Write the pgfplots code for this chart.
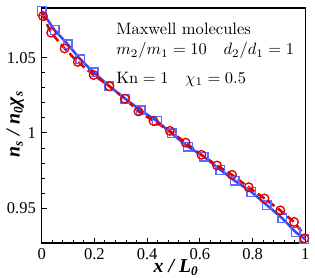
\documentclass[border=0pt]{standalone}
\usepackage{pgfplots}
\pgfplotsset{compat=1.18}
\usepackage{fontspec}
\newfontfamily\tfont{Liberation Serif}
\definecolor{myblue}{RGB}{50,70,255}
\definecolor{myred}{RGB}{220,0,0}
\begin{document}
\begin{tikzpicture}
\begin{axis}[
 scale only axis, width=159.6pt, height=142.2pt,
 xmin=0, xmax=1, ymin=0.927, ymax=1.083,
 xtick={0,0.2,0.4,0.6,0.8,1}, ytick={0.95,1,1.05},
 minor x tick num=4, minor y tick num=4,
 tick align=inside, tick pos=left,
 major tick length=3pt, minor tick length=1.8pt,
 axis line style={line width=0.9pt},
 every tick/.style={black, line width=0.6pt},
 tick label style={font=\tfont},
 /pgf/number format/assume math mode=true,
 clip=false,
]
\path (rel axis cs:-0.158,-0.148) rectangle (rel axis cs:1.026,1.034);
% blue line
\addplot[myblue, line width=1.5pt] coordinates {
(0,1.081)(0.049,1.0683)(0.099,1.0589)(0.146,1.049)(0.197,1.0403)(0.257,1.031)
(0.317,1.0227)(0.376,1.015)(0.437,1.008)(0.493,0.9997)(0.555,0.9909)(0.615,0.9843)
(0.678,0.9755)(0.732,0.9683)(0.795,0.9609)(0.854,0.9521)(0.913,0.9433)(0.963,0.9342)(1,0.9293)};
\addplot[only marks, mark=square, mark size=2.6pt, color=myblue!80!white, mark options={line width=0.8pt}] coordinates {
(0,1.081)(0.049,1.0683)(0.099,1.0589)(0.146,1.049)(0.197,1.0403)(0.257,1.031)
(0.317,1.0227)(0.376,1.015)(0.437,1.008)(0.493,0.9997)(0.555,0.9909)(0.615,0.9843)
(0.678,0.9755)(0.732,0.9683)(0.795,0.9609)(0.854,0.9521)(0.913,0.9433)(0.963,0.9342)(0.996,0.9295)};
% red line
\addplot[myred, line width=1.5pt, dash pattern=on 5pt off 2.5pt] coordinates {
(0,1.0797)(0.005,1.0776)(0.036,1.0666)(0.087,1.0561)(0.137,1.0472)(0.197,1.0385)(0.257,1.031)
(0.316,1.0227)(0.367,1.0143)(0.424,1.008)(0.486,1.0014)(0.546,0.9936)(0.606,0.9855)
(0.665,0.9784)(0.722,0.9722)(0.785,0.964)(0.845,0.9565)(0.905,0.9486)(0.957,0.9409)(1,0.9315)};
\addplot[only marks, mark=o, mark size=2.6pt, color=myred, mark options={line width=0.8pt}] coordinates {
(0.005,1.0776)(0.036,1.0666)(0.087,1.0561)(0.137,1.0472)(0.197,1.0385)(0.257,1.031)
(0.316,1.0227)(0.367,1.0143)(0.424,1.008)(0.486,1.0014)(0.546,0.9936)(0.606,0.9855)
(0.665,0.9784)(0.722,0.9722)(0.785,0.964)(0.845,0.9565)(0.905,0.9486)(0.957,0.9409)(0.996,0.930)};
\node[anchor=west, inner sep=0pt] at (rel axis cs:0.282,0.911) {Maxwell molecules};
\node[anchor=west, inner sep=0pt] at (rel axis cs:0.282,0.819) {$m_2/m_1=10\quad d_2/d_1=1$};
\node[anchor=west, inner sep=0pt] at (rel axis cs:0.282,0.696) {$\mathrm{Kn}=1\quad \chi_1=0.5$};
\node[inner sep=0pt, font=\tfont\bfseries\itshape\large] at (rel axis cs:0.51,-0.105) {x / L\textsubscript{0}};
\node[inner sep=0pt, rotate=90, font=\tfont\bfseries\itshape\large] at (rel axis cs:-0.10,0.506) {n\textsubscript{s} / n\textsubscript{0}χ\textsubscript{s}};
\end{axis}
\end{tikzpicture}
\end{document}
